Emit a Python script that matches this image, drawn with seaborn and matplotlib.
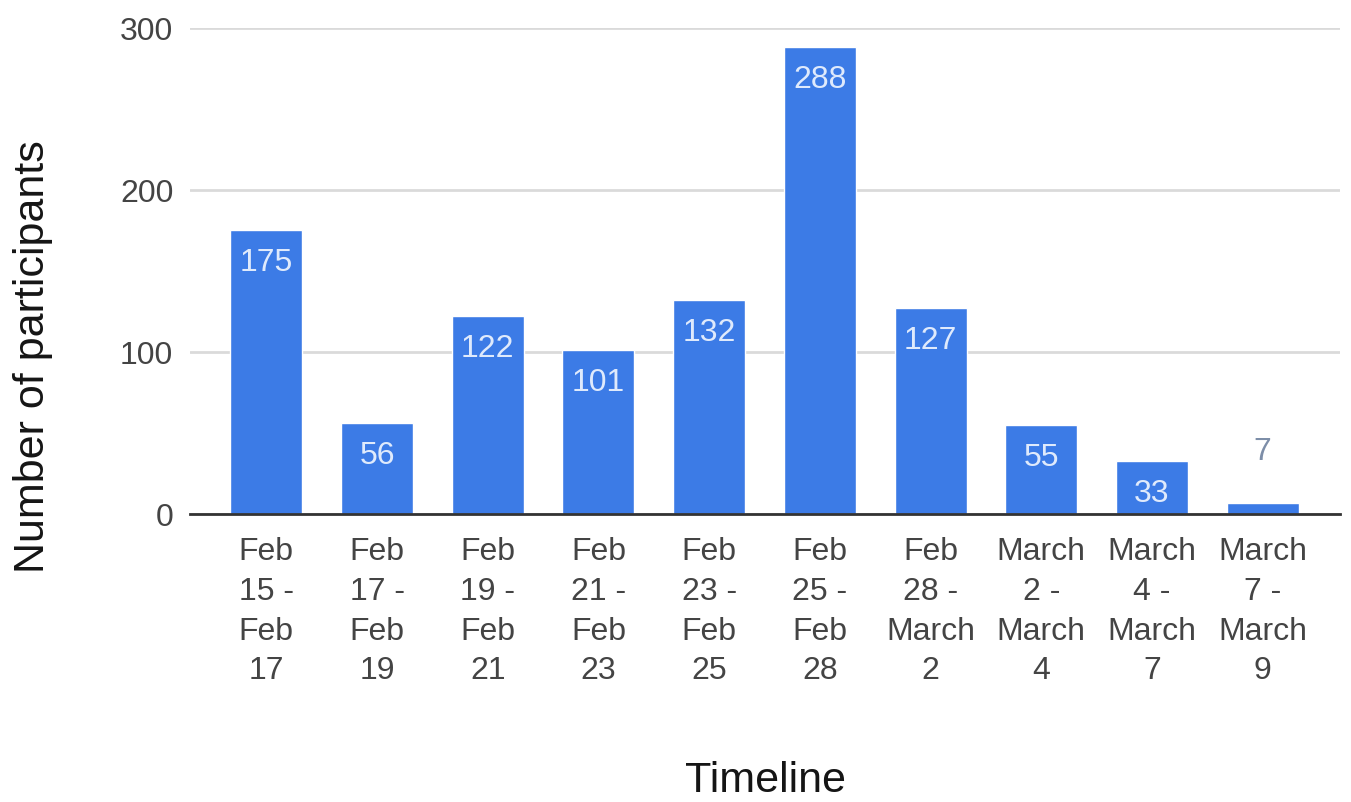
import pandas as pd
import seaborn as sns
import matplotlib.pyplot as plt

# values
periods = ['Feb\n15 -\nFeb\n17', 'Feb\n17 -\nFeb\n19', 'Feb\n19 -\nFeb\n21', 'Feb\n21 -\nFeb\n23',
           'Feb\n23 -\nFeb\n25', 'Feb\n25 -\nFeb\n28', 'Feb\n28 -\nMarch\n2', 'March\n2 -\nMarch\n4',
           'March\n4 -\nMarch\n7', 'March\n7 -\nMarch\n9']
participants = [175, 56, 122, 101, 132, 288, 127, 55, 33, 7]
y_ticks = [0, 100, 200, 300]

BAR_COLOR = '#3c7be6'


def main():
    sns.set_style('white')
    plt.rcParams['font.family'] = ['Liberation Sans', 'DejaVu Sans']

    df = pd.DataFrame({'period': periods, 'participants': participants})

    fig = plt.figure(figsize=(13.51, 8.03), dpi=100)
    ax = fig.add_axes([0.1406, 0.3587, 0.8514, 0.6052])

    sns.barplot(data=df, x='period', y='participants', color=BAR_COLOR,
                width=0.65, saturation=1, ax=ax, zorder=3)

    ax.set_ylim(0, 300)
    ax.set_xlim(-0.69, 9.7)
    ax.set_yticks(y_ticks)
    ax.yaxis.grid(True, color='#dadada', linewidth=2, zorder=0)
    ax.set_axisbelow(True)

    for side in ['top', 'right', 'left']:
        ax.spines[side].set_visible(False)
    ax.spines['bottom'].set_color('#333333')
    ax.spines['bottom'].set_linewidth(2)
    ax.spines['bottom'].set_zorder(4)

    ax.tick_params(axis='both', length=0, labelcolor='#444444', labelsize=23)
    ax.tick_params(axis='y', pad=12)
    ax.tick_params(axis='x', pad=16)
    for lbl in ax.get_xticklabels():
        lbl.set_linespacing(1.42)

    # value labels: inside the bar near its top, or above it for tiny bars
    for i, v in enumerate(participants):
        if v >= 20:
            ax.annotate(str(v), (i, v), xytext=(0, -32), textcoords='offset pixels',
                        ha='center', va='center', fontsize=23, color='#dfeafc', zorder=5)
        else:
            ax.annotate(str(v), (i, v), xytext=(0, 52), textcoords='offset pixels',
                        ha='center', va='center', fontsize=23, color='#7d8ea8', zorder=5)

    ax.set_xlabel('Timeline', fontsize=31, color='#151515', labelpad=54)
    ax.set_ylabel('Number of participants', fontsize=31, color='#151515')
    # the y title sits lower than the plot centre in the original
    ax.yaxis.set_label_coords(-0.119, 0.325)

    fig.savefig('out.png', dpi=100)


if __name__ == '__main__':
    main()
